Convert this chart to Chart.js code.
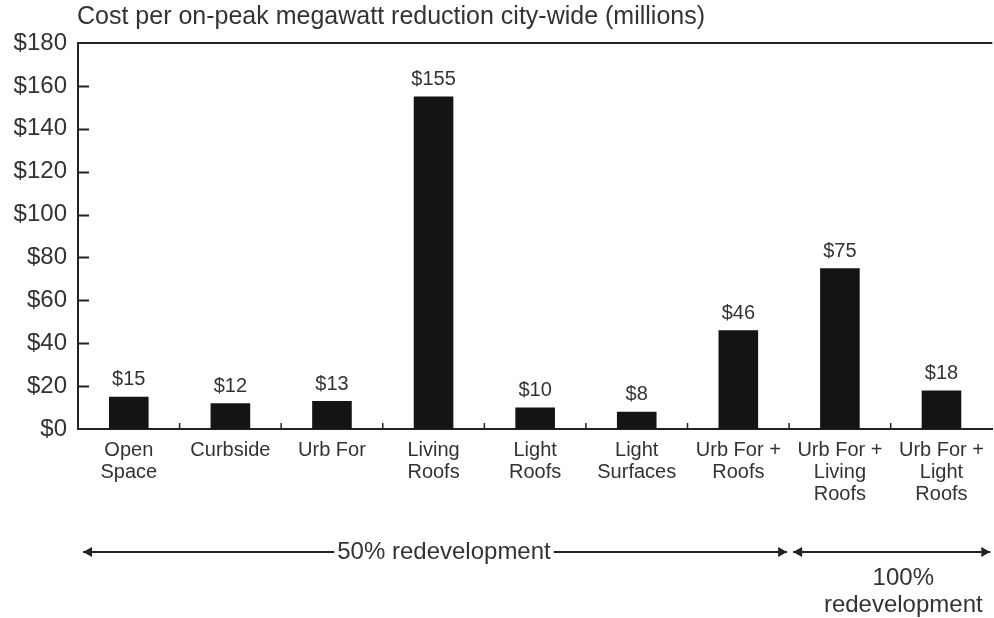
<!DOCTYPE html>
<html>
<head>
<meta charset="utf-8">
<script src="https://cdn.jsdelivr.net/npm/chart.js@4.4.1/dist/chart.umd.min.js"></script>
<style>
  html, body { margin: 0; padding: 0; background: #fff; }
  #wrap { width: 994px; height: 618px; }
</style>
</head>
<body>
<div id="wrap"><canvas id="chart"></canvas></div>
<script>
const title = "Cost per on-peak megawatt reduction city-wide (millions)";
const categories = [
  ["Open", "Space"], ["Curbside"], ["Urb For"], ["Living", "Roofs"], ["Light", "Roofs"],
  ["Light", "Surfaces"], ["Urb For +", "Roofs"], ["Urb For +", "Living", "Roofs"], ["Urb For +", "Light", "Roofs"]
];
const costs = [15, 12, 13, 155, 10, 8, 46, 75, 18];
const yMin = 0, yMax = 180, yStep = 20;
// redevelopment groups: first and last category index covered by each arrow
const groupLabels = [["50% redevelopment"], ["100%", "redevelopment"]];
const groupFrom = [0, 7];
const groupTo = [6, 8];

const ink = "#222";
const textInk = "#333";
const font = "'Liberation Sans', Arial, sans-serif";

function arrowHead(ctx, x, y, dir) {
  ctx.beginPath();
  ctx.moveTo(x, y);
  ctx.lineTo(x - dir * 9, y - 5);
  ctx.lineTo(x - dir * 9, y + 5);
  ctx.closePath();
  ctx.fill();
}

const decorations = {
  id: "decorations",
  afterDraw(chart) {
    const { ctx, chartArea: area } = chart;
    const x = chart.scales.x, y = chart.scales.y;
    const band = x.getPixelForValue(1) - x.getPixelForValue(0);
    ctx.save();
    ctx.strokeStyle = ink;
    ctx.fillStyle = ink;

    // top frame line
    ctx.lineWidth = 2;
    ctx.beginPath();
    ctx.moveTo(area.left, area.top);
    ctx.lineTo(area.right, area.top);
    ctx.stroke();

    // inward y ticks
    y.ticks.forEach((t) => {
      if (t.value === yMin || t.value === yMax) return;
      const py = Math.round(y.getPixelForValue(t.value)) + 0.5;
      ctx.beginPath();
      ctx.moveTo(area.left, py);
      ctx.lineTo(area.left + 11, py);
      ctx.stroke();
    });

    // small x ticks between categories
    ctx.lineWidth = 1.5;
    for (let i = 0; i < categories.length - 1; i++) {
      const px = x.getPixelForValue(i) + band / 2;
      ctx.beginPath();
      ctx.moveTo(px, area.bottom);
      ctx.lineTo(px, area.bottom - 6);
      ctx.stroke();
    }

    ctx.fillStyle = textInk;
    // title
    ctx.font = `25px ${font}`;
    ctx.textAlign = "left";
    ctx.textBaseline = "middle";
    ctx.fillText(title, area.left - 1, 17);

    // value labels
    ctx.font = `20px ${font}`;
    ctx.textAlign = "center";
    ctx.textBaseline = "bottom";
    chart.getDatasetMeta(0).data.forEach((bar, i) => {
      ctx.fillText("$" + costs[i], bar.x, bar.y - 7);
    });

    // redevelopment arrows
    const ay = 552;
    ctx.lineWidth = 2;
    ctx.font = `24px ${font}`;
    ctx.textBaseline = "middle";
    groupLabels.forEach((lines, g) => {
      const x0 = g === 0 ? area.left + 5 : x.getPixelForValue(groupFrom[g]) - band / 2 + 4;
      const x1 = g === groupLabels.length - 1 ? area.right - 2 : x.getPixelForValue(groupTo[g]) + band / 2 - 2;
      ctx.fillStyle = ink;
      if (lines.length === 1) {
        const cx = 444;
        const w = ctx.measureText(lines[0]).width;
        ctx.beginPath();
        ctx.moveTo(x0, ay); ctx.lineTo(cx - w / 2 - 3, ay);
        ctx.moveTo(cx + w / 2 + 3, ay); ctx.lineTo(x1, ay);
        ctx.stroke();
        arrowHead(ctx, x0, ay, -1);
        arrowHead(ctx, x1, ay, 1);
        ctx.fillStyle = textInk;
        ctx.fillText(lines[0], cx, ay);
      } else {
        ctx.beginPath();
        ctx.moveTo(x0, ay); ctx.lineTo(x1, ay);
        ctx.stroke();
        arrowHead(ctx, x0, ay, -1);
        arrowHead(ctx, x1, ay, 1);
        ctx.fillStyle = textInk;
        const cx = area.right - 89;
        lines.forEach((l, k) => ctx.fillText(l, cx, ay + 26 + k * 27));
      }
    });
    ctx.restore();
  }
};

new Chart(document.getElementById("chart"), {
  type: "bar",
  data: {
    labels: categories,
    datasets: [{
      data: costs,
      backgroundColor: "#141414",
      borderWidth: 0,
      barPercentage: 0.39,
      categoryPercentage: 1
    }]
  },
  options: {
    responsive: true,
    maintainAspectRatio: false,
    animation: false,
    layout: { padding: { top: 43, right: 0, left: 0, bottom: 0 } },
    plugins: { legend: { display: false }, tooltip: { enabled: false }, title: { display: false } },
    scales: {
      x: {
        grid: { display: false, drawTicks: false },
        border: { display: true, color: ink, width: 2 },
        ticks: { color: textInk, padding: 10, maxRotation: 0, autoSkip: false, font: { family: font, size: 20, lineHeight: 1.1 } },
        afterFit(scale) { scale.height = 189; }
      },
      y: {
        min: yMin,
        max: yMax,
        grid: { display: false, drawTicks: false },
        border: { display: true, color: ink, width: 2 },
        ticks: { stepSize: yStep, color: textInk, padding: 11, font: { family: font, size: 24 }, callback: (v) => "$" + v },
        afterFit(scale) { scale.width = 78; }
      }
    }
  },
  plugins: [decorations]
});
</script>
</body>
</html>
